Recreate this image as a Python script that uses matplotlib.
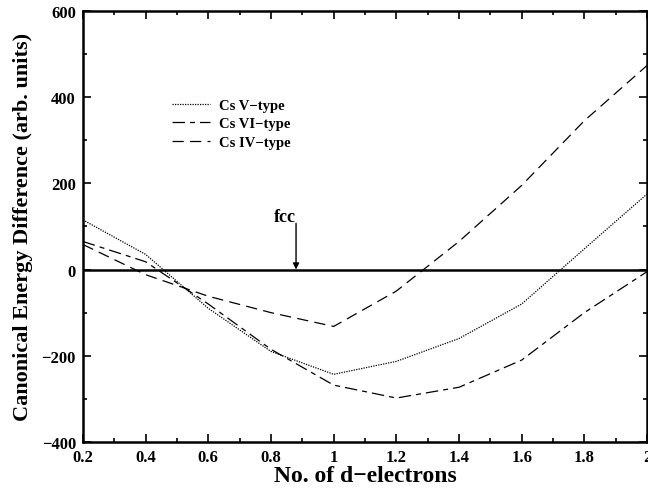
import matplotlib
matplotlib.use("Agg")
import matplotlib.pyplot as plt
from matplotlib.ticker import MultipleLocator

d_electrons = [0.2, 0.4, 0.6, 0.8, 1.0, 1.2, 1.4, 1.6, 1.8, 2.0]
cs_v = [115, 35, -90, -190, -243, -213, -160, -80, 48, 175]
cs_vi = [65, 18, -80, -185, -268, -298, -273, -210, -100, -5]
cs_iv = [58, -12, -62, -100, -132, -50, 65, 195, 345, 473]

xtick_vals = [0.2, 0.4, 0.6, 0.8, 1.0, 1.2, 1.4, 1.6, 1.8, 2.0]
xtick_labels = ["0.2", "0.4", "0.6", "0.8", "1", "1.2", "1.4", "1.6", "1.8", "2"]
ytick_vals = [-400, -200, 0, 200, 400, 600]

plt.rcParams['font.family'] = ['Liberation Serif', 'DejaVu Serif']
plt.rcParams['font.weight'] = 'bold'

fig = plt.figure(figsize=(6.48, 4.89), dpi=100)
ax = fig.add_axes([0.128, 0.094, 0.8705, 0.882])

ax.plot(d_electrons, cs_v, color='black', lw=0.9, linestyle=(0, (1, 1)), label='Cs V\u2212type')
ax.plot(d_electrons, cs_vi, color='black', lw=0.9, linestyle=(0, (10, 4, 4, 4)), label='Cs VI\u2212type')
ax.plot(d_electrons, cs_iv, color='black', lw=0.9, linestyle=(0, (9, 5)), label='Cs IV\u2212type')
ax.axhline(0, color='black', lw=1.8)

ax.annotate('', xy=(0.88, 0), xytext=(0.88, 107),
            arrowprops=dict(arrowstyle='-|>', color='black', lw=1, shrinkA=0, shrinkB=0,
                            mutation_scale=9))
ax.text(0.845, 123, 'fcc', ha='center', va='center', fontsize=13, fontweight='bold')

ax.set_xlim(0.2, 2.0)
ax.set_ylim(-400, 600)
ax.set_xticks(xtick_vals)
ax.set_xticklabels(xtick_labels)
ax.set_yticks(ytick_vals)
ax.xaxis.set_minor_locator(MultipleLocator(0.1))
ax.yaxis.set_minor_locator(MultipleLocator(100))
ax.tick_params(which='both', direction='in', top=True, right=True, width=1.2)
ax.tick_params(which='major', length=6, labelsize=12, pad=5)
ax.tick_params(which='minor', length=3)
for lab in ax.get_xticklabels() + ax.get_yticklabels():
    lab.set_fontweight('bold')
for s in ax.spines.values():
    s.set_linewidth(1.8)

ax.set_xlabel('No. of d\u2212electrons', fontsize=17, fontweight='bold', labelpad=0)
ax.set_ylabel('Canonical Energy Difference (arb. units)', fontsize=16, fontweight='bold', labelpad=6)

leg = ax.legend(loc='upper left', bbox_to_anchor=(0.135, 0.826), frameon=False,
                handlelength=2.6, handletextpad=0.6, labelspacing=0.35,
                prop={'weight': 'bold', 'size': 10.5})

fig.savefig('out.png', dpi=100)
